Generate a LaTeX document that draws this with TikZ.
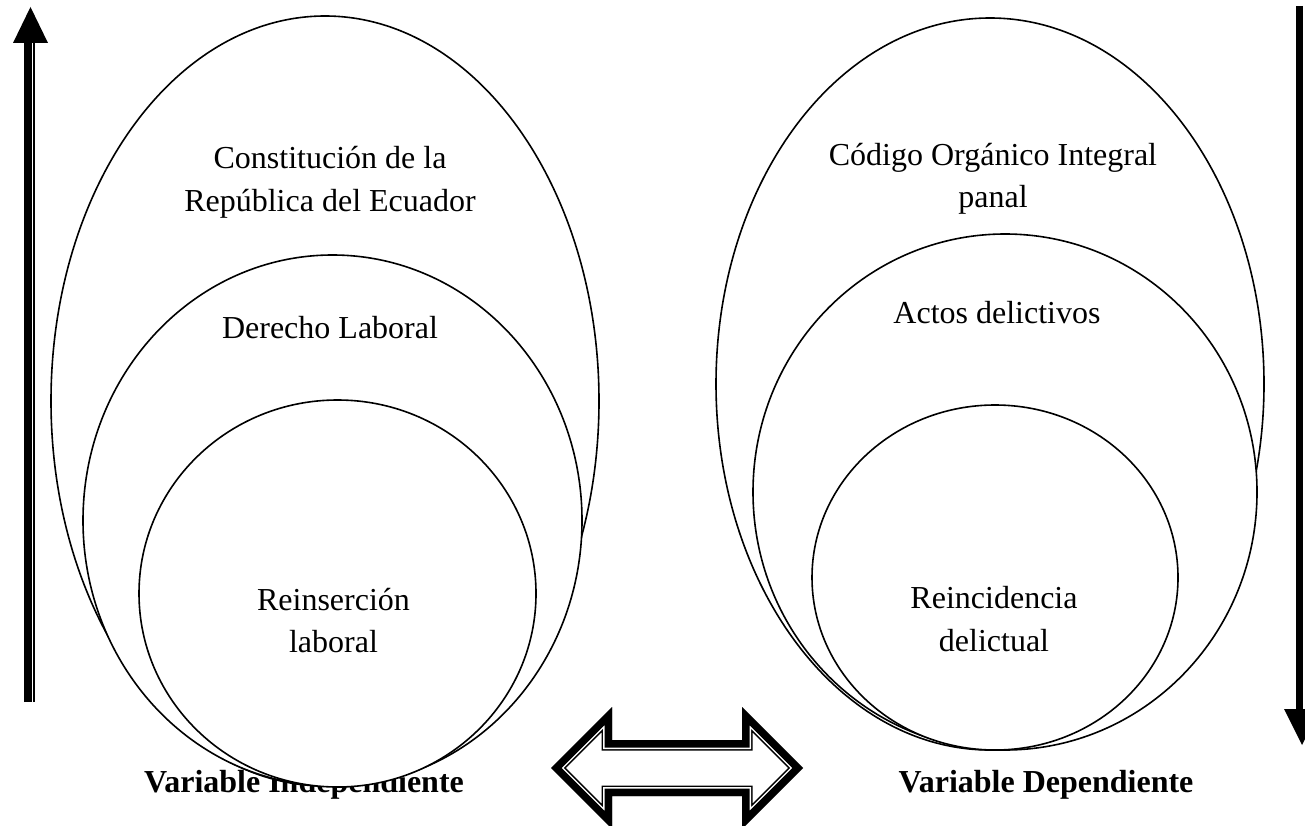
\documentclass[tikz,border=0pt]{standalone}
\usepackage{fontspec}
\setmainfont{Liberation Serif}
\begin{document}
\begin{tikzpicture}[x=1pt,y=-1pt,
  lbl/.style={inner sep=0pt, anchor=base, font=\fontsize{32}{38}\selectfont},
  vlbl/.style={inner sep=0pt, anchor=base, font=\fontsize{32}{38}\selectfont\bfseries},
  oval/.style={draw=black, fill=white, line width=1.6pt},
  shaftthick/.style={line width=7.5pt},
  shaftthin/.style={line width=1.8pt},
  headfill/.style={fill=black}]
\useasboundingbox (0,0) rectangle (1305,826);
\fill[white] (0,0) rectangle (1305,826);

% bold labels (left one lies partly under the ovals)
\node[vlbl] (vi) at (304,792) {Variable Independiente};
\node[vlbl] (vd) at (1046,792) {Variable Dependiente};

% left ovals
\draw[oval] (325,401) ellipse [x radius=274, y radius=385];
\draw[oval] (332.5,520.5) ellipse [x radius=249.5, y radius=265.5];
\draw[oval] (337.5,593.5) ellipse [x radius=198.5, y radius=193.5];
% right ovals
\draw[oval] (990,384) ellipse [x radius=274, y radius=366];
\draw[oval] (1005,492) ellipse [x radius=252, y radius=258];
\draw[oval] (995,577.5) ellipse [x radius=183, y radius=172.5];

% texts
\node[lbl] (c1) at (330,169) {Constitución de la};
\node[lbl] (c2) at (330,212) {República del Ecuador};
\node[lbl] (dl) at (330,338) {Derecho Laboral};
\node[lbl] (r1) at (333.5,610) {Reinserción};
\node[lbl] (r2) at (333.5,652) {laboral};
\node[lbl] (g1) at (993,166) {Código Orgánico Integral};
\node[lbl] (g2) at (993,208) {panal};
\node[lbl] (ad) at (997,323) {Actos delictivos};
\node[lbl] (ri1) at (994,608) {Reincidencia};
\node[lbl] (ri2) at (994,651) {delictual};

% left vertical arrow (upwards)
\draw[shaftthick] (27.8,702) -- (27.8,42);
\draw[shaftthin] (33.6,702) -- (33.6,42);
\fill[headfill] (13,43) -- (30.5,7) -- (48,43) -- cycle;

% right vertical arrow (downwards)
\draw[shaftthick] (1299.5,6) -- (1299.5,710);
\draw[shaftthin] (1305.5,6) -- (1305.5,710);
\fill[headfill] (1284,709) -- (1302,745) -- (1320,709) -- cycle;

% double-headed block arrow
\def\dblarrow{(551,768) -- (612,707) -- (612,740) -- (742,740) -- (742,707) -- (803,768) -- (742,829) -- (742,796) -- (612,796) -- (612,829) -- cycle}
\begin{scope}
\clip \dblarrow;
\fill[white] \dblarrow;
\draw[line width=21pt, line join=miter] \dblarrow;
\draw[white, line width=18pt, line join=miter] \dblarrow;
\draw[line width=15pt, line join=miter] \dblarrow;
\end{scope}
\end{tikzpicture}
\end{document}
